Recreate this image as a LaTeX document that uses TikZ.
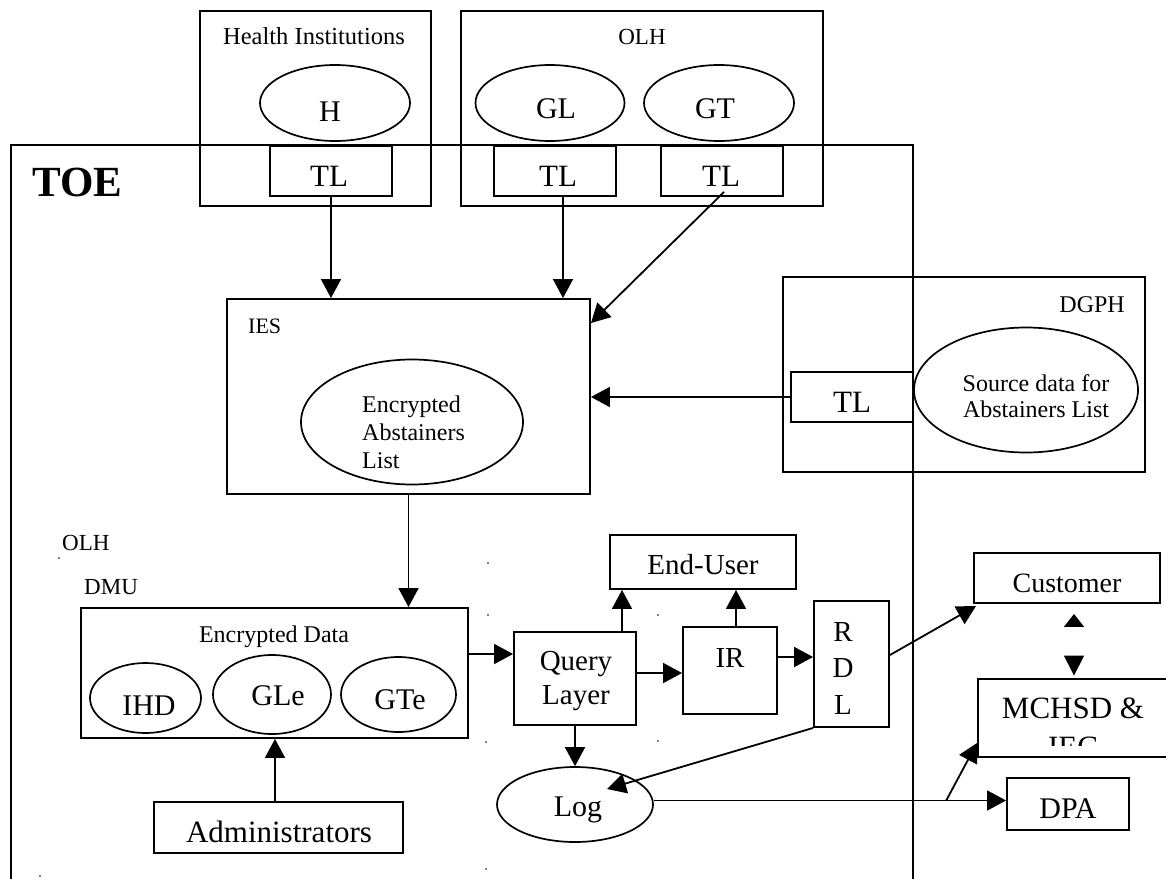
\documentclass[tikz,border=0pt]{standalone}
\usepackage{fontspec}
\setmainfont{Liberation Serif}
\usetikzlibrary{arrows.meta,calc,shapes.geometric}

\newcommand{\txtsize}[1]{\fontsize{#1}{#1}\selectfont}

\tikzset{
  box/.style={draw, line width=1.9pt, inner sep=0pt},
  oval/.style={draw, ellipse, line width=1.7pt, inner sep=0pt},
  lbl/.style={inner sep=0pt, anchor=base},
  lblw/.style={inner sep=0pt, anchor=base west},
  arr/.style={line width=1.8pt, -{Triangle[length=19pt,width=20pt]}},
  speck/.style={fill=black}
}

\begin{document}
\begin{tikzpicture}[x=1pt, y=-1pt]
\useasboundingbox (0,0) rectangle (1166,878);
\clip (0,0) rectangle (1166,878);

% ---------- target of evaluation frame ----------
\node[box, minimum width=902pt, minimum height=755pt] (toe) at (462,522.5) {};
\node[lblw, font=\bfseries\txtsize{43}] (toelbl) at (32,196) {TOE};

% ---------- health institutions ----------
\node[box, minimum width=231pt, minimum height=195pt] (hi) at (315.5,108.5) {};
\node[lbl, font=\txtsize{24.5}] (hilbl) at (314,44) {Health Institutions};
\node[oval, minimum width=150pt, minimum height=76pt] (h) at (335,103) {};
\node[lbl, font=\txtsize{30}] (htxt) at (330,121) {H};
\node[box, minimum width=122pt, minimum height=50pt] (tlH) at (331,171) {};
\node[lbl, font=\txtsize{31}] (tlHtxt) at (329,186) {TL};

% ---------- OLH ----------
\node[box, minimum width=362pt, minimum height=195pt] (olh) at (642,108.5) {};
\node[lbl, font=\txtsize{23}] (olhlbl) at (642,44) {OLH};
\node[oval, minimum width=149pt, minimum height=76pt] (gl) at (550,103) {};
\node[lbl, font=\txtsize{30}] (gltxt) at (556,118) {GL};
\node[oval, minimum width=150pt, minimum height=76pt] (gt) at (719,103) {};
\node[lbl, font=\txtsize{30}] (gttxt) at (715,118) {GT};
\node[box, minimum width=122pt, minimum height=50pt] (tlGL) at (555,171) {};
\node[lbl, font=\txtsize{31}] (tlGLtxt) at (558,186) {TL};
\node[box, minimum width=122pt, minimum height=50pt] (tlGT) at (722,171) {};
\node[lbl, font=\txtsize{31}] (tlGTtxt) at (721,186) {TL};

% ---------- IES ----------
\node[box, minimum width=363pt, minimum height=195pt] (ies) at (408.5,396.5) {};
\node[lblw, font=\txtsize{22}] (ieslbl) at (248,333) {IES};
\node[oval, minimum width=222pt, minimum height=125pt] (eal) at (412,422) {};
\node[lblw, font=\txtsize{24}] (eal1) at (362,412) {Encrypted};
\node[lblw, font=\txtsize{24}] (eal2) at (362,440) {Abstainers};
\node[lblw, font=\txtsize{24}] (eal3) at (362,468) {List};

% ---------- DGPH ----------
\node[box, minimum width=362pt, minimum height=195pt] (dgph) at (964,374.5) {};
\node[inner sep=0pt, anchor=base east, font=\txtsize{24}] (dgphlbl) at (1125,312) {DGPH};
\node[box, minimum width=122pt, minimum height=50pt] (tlD) at (852,397) {};
\node[lbl, font=\txtsize{31}] (tlDtxt) at (852,412) {TL};
\node[oval, minimum width=224pt, minimum height=125pt] (src) at (1026,390) {};
\node[lbl, font=\txtsize{24}] (src1) at (1036,391) {Source data for};
\node[lbl, font=\txtsize{24}] (src2) at (1036,417) {Abstainers List};

% ---------- DMU ----------
\node[lblw, font=\txtsize{23}] (olhleft) at (62,550) {OLH};
\node[lblw, font=\txtsize{23}] (dmulbl) at (84,594) {DMU};
\node[box, minimum width=387pt, minimum height=130pt] (dmu) at (274.5,673) {};
\node[lbl, font=\txtsize{24}] (edlbl) at (274,642) {Encrypted Data};
\node[oval, minimum width=111pt, minimum height=70pt] (ihd) at (145.5,698) {};
\node[lbl, font=\txtsize{30}] (ihdtxt) at (149,715) {IHD};
\node[oval, minimum width=118pt, minimum height=79pt] (gle) at (272,694.5) {};
\node[lbl, font=\txtsize{30}] (gletxt) at (278,705) {GLe};
\node[oval, minimum width=115pt, minimum height=75pt] (gte) at (398.5,694.5) {};
\node[lbl, font=\txtsize{30}] (gtetxt) at (400,709) {GTe};
\node[box, minimum width=249pt, minimum height=51pt] (adm) at (278.5,827.5) {};
\node[lbl, font=\txtsize{31}] (admtxt) at (279,842) {Administrators};

% ---------- query path ----------
\node[box, minimum width=122pt, minimum height=93pt] (query) at (575,678.5) {};
\node[lbl, font=\txtsize{29}] (q1) at (576,670) {Query};
\node[lbl, font=\txtsize{29}] (q2) at (576,704) {Layer};
\node[box, minimum width=186pt, minimum height=54pt] (enduser) at (703,562) {};
\node[lbl, font=\txtsize{29}] (eutxt) at (703,574) {End-User};
\node[box, minimum width=94pt, minimum height=87pt] (ir) at (730,670.5) {};
\node[lbl, font=\txtsize{29}] (irtxt) at (730,667) {IR};
\node[box, minimum width=75pt, minimum height=126pt] (rdl) at (851.5,664) {};
\node[lbl, font=\txtsize{29}] (rdl1) at (843,641) {R};
\node[lbl, font=\txtsize{29}] (rdl2) at (843,677) {D};
\node[lbl, font=\txtsize{29}] (rdl3) at (843,714) {L};
\node[oval, minimum width=156pt, minimum height=75pt] (log) at (575,804.5) {};
\node[lbl, font=\txtsize{30}] (logtxt) at (578,816) {Log};

% ---------- outside parties ----------
\node[box, minimum width=186pt, minimum height=50pt] (customer) at (1067,578) {};
\node[lbl, font=\txtsize{28}] (custtxt) at (1067,592) {Customer};
\node[box, minimum width=222pt, minimum height=78pt] (mchsd) at (1089,718) {};
\begin{scope}
  \clip ([xshift=2pt,yshift=12pt]mchsd.south west) rectangle ([yshift=-2pt]mchsd.north east);
  \node[lbl, font=\txtsize{31}] (mchsd1) at (1073,718) {MCHSD \&};
  \node[lbl, font=\txtsize{31}] (mchsd2) at (1073,757) {IEC};
\end{scope}
\node[box, minimum width=122pt, minimum height=52pt] (dpa) at (1068,804) {};
\node[lbl, font=\txtsize{30}] (dpatxt) at (1068,818) {DPA};

% ---------- connectors ----------
\draw[arr] (tlH.south) -- (tlH.south |- ies.north);
\draw[arr] ([xshift=8pt]tlGL.south) -- ([xshift=8pt]tlGL.south |- ies.north);
\draw[arr] ([xshift=2pt,yshift=5pt]tlGT.south) -- ([yshift=-25pt]ies.north east);
\draw[arr] (tlD.west) -- (tlD.west -| ies.east);
\draw[arr] (ies.south) -- (ies.south |- dmu.north);
\draw[arr] ([xshift=-3.5pt]adm.north) -- ([xshift=-3.5pt]adm.north |- dmu.south);
\draw[arr] ([yshift=19pt]dmu.east) -- ([yshift=19pt]dmu.east -| query.west);
\draw[arr] ([xshift=47pt]query.north) -- ([xshift=47pt]query.north |- enduser.south);
\draw[arr] ([yshift=5.5pt]query.east) -- ([yshift=5.5pt]query.east -| ir.west);
\draw[arr] ([xshift=6pt]ir.north) -- ([xshift=6pt]ir.north |- enduser.south);
\draw[arr] ([yshift=13.5pt]ir.east) -- ([yshift=13.5pt]ir.east -| rdl.west);
\draw[arr] (query.south) -- (query.south |- log.north);
\draw[arr] (rdl.south west) -- ($(log.center)+(32,-15.5)$);
\draw[arr] ([yshift=9pt]rdl.east) -- ([xshift=3pt,yshift=-2pt]customer.south west);
\draw[arr] ([yshift=4pt]log.east) -- ([yshift=4pt]log.east -| dpa.west);
\coordinate (split) at ($([yshift=4pt]log.east)!0.83!([yshift=4pt]log.east -| dpa.west)$);
\draw[arr] (split) -- ([yshift=15pt]mchsd.south west);
% customer <-> MCHSD: the shaft is invisible, only the two heads show
\draw[draw=white, line width=1.5pt,
      {Triangle[length=13pt,width=20pt,color=black]}-{Triangle[length=20pt,width=20pt,color=black]}]
  ([xshift=7pt,yshift=-10pt]customer.south) -- ([xshift=-15pt,yshift=2.5pt]mchsd.north);

% ---------- stray specks ----------
\foreach \p in {(488,563),(488,615),(658,615),(486,742),(658,741),(486,869),(40,876),(59,558)}
  \fill[speck] \p circle (0.9pt);
\end{tikzpicture}
\end{document}
